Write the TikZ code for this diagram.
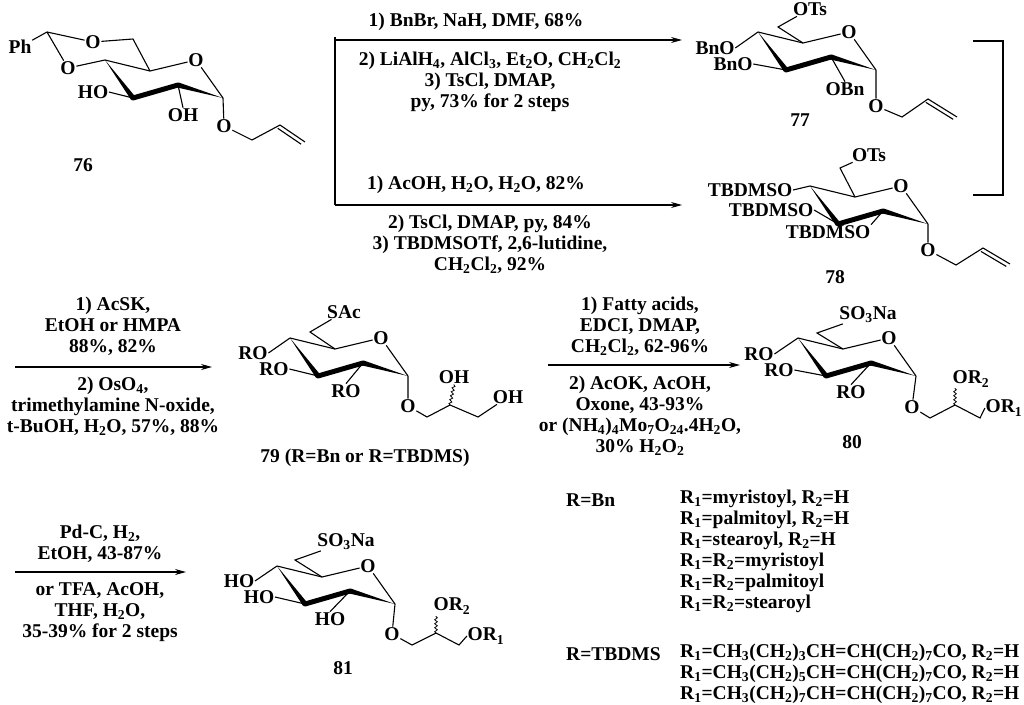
\documentclass[tikz,border=0pt]{standalone}
\usepackage{fontspec}
\setmainfont{Liberation Serif}
\usetikzlibrary{arrows.meta,calc,decorations.pathmorphing}
\newcommand{\sub}[1]{\textsubscript{#1}}
\tikzset{
  bond/.style={line width=1.1pt},
  atom/.style={inner sep=0.6pt, font=\fontsize{19.5}{21}\selectfont\bfseries},
  txt/.style={inner sep=0pt, align=center, font=\fontsize{19.5}{21}\selectfont\bfseries},
  rxn/.style={line width=1.1pt, -{Stealth[length=11pt,width=6pt]}},
  wavy/.style={line width=0.8pt, decorate, decoration={snake, amplitude=1.3pt, segment length=4pt}},
  glc/.pic={
    \coordinate (-c4) at (0,0);
    \coordinate (-c5) at (45,11);
    \node[atom] (-o) at (91,0) {O};
    \coordinate (-c1) at (118,38);
    \coordinate (-c2) at (73,25);
    \coordinate (-c3) at (28,38);
    \draw[bond] (-c4) -- (-c5) -- (-o) -- (-c1);
    \fill ($(-c3)!2.6pt!90:(-c4)$) -- (-c4) -- ($(-c3)!2.6pt!-90:(-c4)$) -- cycle;
    \draw[line width=5pt, line cap=round] (-c3) -- (-c2);
    \fill ($(-c2)!2.6pt!90:(-c1)$) -- (-c1) -- ($(-c2)!2.6pt!-90:(-c1)$) -- cycle;
  }
}
\begin{document}
\begin{tikzpicture}[x=1pt, y=-1pt]
\useasboundingbox (0,0) rectangle (1024,704);

% 76
\pic (m76) at (105,60) {glc};
\coordinate (m76-c6) at (133,39);
\node[atom] (m76-ot) at (93,42) {O};
\coordinate (m76-ac) at (47,32);
\node[atom] (m76-ph) at (20,47) {Ph};
\node[atom] (m76-ob) at (68,68) {O};
\node[atom] (m76-o3) at (93,92) {HO};
\node[atom] (m76-o2) at (183,115) {OH};
\node[atom] (m76-o1) at (224,126) {O};
\coordinate (m76-a1) at (252,140);
\coordinate (m76-a2) at (280,125);
\coordinate (m76-a3) at (305,142);
\draw[bond] (m76-c5) -- (m76-c6) -- (m76-ot) -- (m76-ac) -- (m76-ph);
\draw[bond] (m76-ac) -- (m76-ob) -- (m76-c4);
\draw[bond] (m76-c3) -- (m76-o3.east);
\draw[bond] (m76-c2) -- (m76-o2.north);
\draw[bond] (m76-c1) -- (m76-o1) -- (m76-a1) -- (m76-a2) -- (m76-a3);
\draw[bond, shorten >=2pt] ($(m76-a2)!4pt!-90:(m76-a3)$) -- ($(m76-a3)!4pt!90:(m76-a2)$);
\node[txt] (l76) at (83,165) {76};

% 77
\pic (m77) at (758,32) {glc};
\coordinate (m77-c6) at (778,27);
\node[atom] (m77-ots) at (810,9) {OTs};
\node[atom] (m77-o4) at (715,48) {BnO};
\node[atom] (m77-o3) at (733,64) {BnO};
\node[atom] (m77-o2) at (845,89) {OBn};
\node[atom] (m77-o1) at (876,106) {O};
\coordinate (m77-a1) at (902,117);
\coordinate (m77-a2) at (928,99);
\coordinate (m77-a3) at (957,117);
\draw[bond] (m77-c5) -- (m77-c6) -- (m77-ots);
\draw[bond] (m77-c4) -- (m77-o4.east);
\draw[bond] (m77-c3) -- (m77-o3.east);
\draw[bond] (m77-c2) -- (m77-o2.north);
\draw[bond] (m77-c1) -- (m77-o1) -- (m77-a1) -- (m77-a2) -- (m77-a3);
\draw[bond, shorten >=2pt] ($(m77-a2)!4pt!-90:(m77-a3)$) -- ($(m77-a3)!4pt!90:(m77-a2)$);
\node[txt] (l77) at (800,120) {77};

% 78
\pic (m78) at (810,186) {glc};
\coordinate (m78-c6) at (840,168);
\node[atom] (m78-ots) at (869,155) {OTs};
\node[atom] (m78-o4) at (750,190) {TBDMSO};
\node[atom] (m78-o3) at (771,210) {TBDMSO};
\node[atom] (m78-o2) at (828,232) {TBDMSO};
\node[atom] (m78-o1) at (928,250) {O};
\coordinate (m78-a1) at (956,265);
\coordinate (m78-a2) at (983,248);
\coordinate (m78-a3) at (1010,264);
\draw[bond] (m78-c5) -- (m78-c6) -- (m78-ots);
\draw[bond] (m78-c4) -- (m78-o4.east);
\draw[bond] (m78-c3) -- (m78-o3.east);
\draw[bond] (m78-c2) -- (m78-o2.north east);
\draw[bond] (m78-c1) -- (m78-o1) -- (m78-a1) -- (m78-a2) -- (m78-a3);
\draw[bond, shorten >=2pt] ($(m78-a2)!4pt!-90:(m78-a3)$) -- ($(m78-a3)!4pt!90:(m78-a2)$);
\node[txt] (l78) at (835,277) {78};

% bracket
\coordinate (br1) at (973,41);
\coordinate (br2) at (1003,41);
\coordinate (br3) at (1003,195);
\coordinate (br4) at (973,195);
\draw[bond] (br1) -- (br2) -- (br3) -- (br4);

% top arrows
\coordinate (t0) at (335,37);
\coordinate (t1) at (335,40);
\coordinate (t2) at (682,40);
\coordinate (t3) at (335,205);
\coordinate (t4) at (682,205);
\draw[bond] (t0) -- (t3);
\draw[rxn] (t1) -- (t2);
\draw[rxn] (t3) -- (t4);
\node[txt] (r1a) at (476,22) {1) BnBr, NaH, DMF, 68\%};
\node[txt, anchor=north] (r1b) at (490,52) {2) LiAlH\sub{4}, AlCl\sub{3}, Et\sub{2}O, CH\sub{2}Cl\sub{2}\\3) TsCl, DMAP,\\py, 73\% for 2 steps};
\node[txt] (r2a) at (476,185) {1) AcOH, H\sub{2}O, H\sub{2}O, 82\%};
\node[txt, anchor=north] (r2b) at (490,215) {2) TsCl, DMAP, py, 84\%\\3) TBDMSOTf, 2,6-lutidine,\\CH\sub{2}Cl\sub{2}, 92\%};

% 79
\pic (m79) at (290,338) {glc};
\coordinate (m79-c6) at (310,332);
\node[atom] (m79-sac) at (344,312) {SAc};
\node[atom] (m79-o4) at (253,353) {RO};
\node[atom] (m79-o3) at (274,369) {RO};
\node[atom] (m79-o2) at (346,391) {RO};
\node[atom] (m79-o1) at (408,406) {O};
\coordinate (m79-g1) at (427,417);
\coordinate (m79-g2) at (450,405);
\coordinate (m79-g3) at (478,417);
\node[atom] (m79-oh2) at (454,377) {OH};
\node[atom] (m79-oh3) at (508,397) {OH};
\draw[bond] (m79-c5) -- (m79-c6) -- (m79-sac);
\draw[bond] (m79-c4) -- (m79-o4.east);
\draw[bond] (m79-c3) -- (m79-o3.east);
\draw[bond] (m79-c2) -- (m79-o2.north);
\draw[bond] (m79-c1) -- (m79-o1) -- (m79-g1) -- (m79-g2) -- (m79-g3) -- (m79-oh3);
\draw[wavy] (m79-g2) -- (m79-oh2.south);
\node[txt] (l79) at (365,458) {79 (R=Bn or R=TBDMS)};

% arrow 76/77/78 -> 79
\coordinate (a1s) at (15,367);
\coordinate (a1e) at (212,367);
\draw[rxn] (a1s) -- (a1e);
\node[txt, anchor=south] (r3a) at (113,356) {1) AcSK,\\EtOH or HMPA\\88\%, 82\%};
\node[txt, anchor=north] (r3b) at (113,377) {2) OsO\sub{4},\\trimethylamine N-oxide,\\t-BuOH, H\sub{2}O, 57\%, 88\%};

% arrow 79 -> 80
\coordinate (a2s) at (548,365);
\coordinate (a2e) at (740,365);
\draw[rxn] (a2s) -- (a2e);
\node[txt, anchor=south] (r4a) at (640,356) {1) Fatty acids,\\EDCI, DMAP,\\CH\sub{2}Cl\sub{2}, 62-96\%};
\node[txt, anchor=north] (r4b) at (640,376) {2) AcOK, AcOH,\\Oxone, 43-93\%\\or (NH\sub{4})\sub{4}Mo\sub{7}O\sub{24}.4H\sub{2}O,\\30\% H\sub{2}O\sub{2}};

% 80
\pic (m80) at (798,338) {glc};
\coordinate (m80-c6) at (817,333);
\node[atom] (m80-so3) at (868,315) {SO\sub{3}Na};
\node[atom] (m80-o4) at (759,354) {RO};
\node[atom] (m80-o3) at (779,370) {RO};
\node[atom] (m80-o2) at (851,392) {RO};
\node[atom] (m80-o1) at (912,407) {O};
\coordinate (m80-g1) at (930,418);
\coordinate (m80-g2) at (955,405);
\coordinate (m80-g3) at (980,418);
\node[atom] (m80-or2) at (971,379) {OR\sub{2}};
\node[atom] (m80-or1) at (1004,408) {OR\sub{1}};
\draw[bond] (m80-c5) -- (m80-c6) -- (m80-so3);
\draw[bond] (m80-c4) -- (m80-o4.east);
\draw[bond] (m80-c3) -- (m80-o3.east);
\draw[bond] (m80-c2) -- (m80-o2.north);
\draw[bond] (m80-c1) -- (m80-o1) -- (m80-g1) -- (m80-g2) -- (m80-g3) -- (m80-or1.west);
\draw[wavy] (m80-g2) -- ($(m80-g2)+(0,-17)$);
\node[txt] (l80) at (852,442) {80};

% arrow 80 -> 81
\coordinate (a3s) at (15,572);
\coordinate (a3e) at (186,572);
\draw[rxn] (a3s) -- (a3e);
\node[txt, anchor=south] (r5a) at (100,563) {Pd-C, H\sub{2},\\EtOH, 43-87\%};
\node[txt, anchor=north] (r5b) at (100,582) {or TFA, AcOH,\\THF, H\sub{2}O,\\35-39\% for 2 steps};

% 81
\pic (m81) at (277,566) {glc};
\coordinate (m81-c6) at (295,560);
\node[atom] (m81-so3) at (346,542) {SO\sub{3}Na};
\node[atom] (m81-o4) at (239,581) {HO};
\node[atom] (m81-o3) at (259,597) {HO};
\node[atom] (m81-o2) at (330,619) {HO};
\node[atom] (m81-o1) at (392,634) {O};
\coordinate (m81-g1) at (412,645);
\coordinate (m81-g2) at (436,633);
\coordinate (m81-g3) at (459,645);
\node[atom] (m81-or2) at (452,606) {OR\sub{2}};
\node[atom] (m81-or1) at (486,636) {OR\sub{1}};
\draw[bond] (m81-c5) -- (m81-c6) -- (m81-so3);
\draw[bond] (m81-c4) -- (m81-o4.east);
\draw[bond] (m81-c3) -- (m81-o3.east);
\draw[bond] (m81-c2) -- (m81-o2.north);
\draw[bond] (m81-c1) -- (m81-o1) -- (m81-g1) -- (m81-g2) -- (m81-g3) -- (m81-or1.west);
\draw[wavy] (m81-g2) -- ($(m81-g2)+(0,-17)$);
\node[txt] (l81) at (343,668) {81};

% R groups
\node[txt, anchor=west] (rbn) at (566,500) {R=Bn};
\node[txt, align=left, anchor=north west] (rbnl) at (680,490) {R\sub{1}=myristoyl, R\sub{2}=H\\R\sub{1}=palmitoyl, R\sub{2}=H\\R\sub{1}=stearoyl, R\sub{2}=H\\R\sub{1}=R\sub{2}=myristoyl\\R\sub{1}=R\sub{2}=palmitoyl\\R\sub{1}=R\sub{2}=stearoyl};
\node[txt, anchor=west] (rtb) at (566,654) {R=TBDMS};
\node[txt, align=left, anchor=north west] (rtbl) at (680,644) {R\sub{1}=CH\sub{3}(CH\sub{2})\sub{3}CH=CH(CH\sub{2})\sub{7}CO, R\sub{2}=H\\R\sub{1}=CH\sub{3}(CH\sub{2})\sub{5}CH=CH(CH\sub{2})\sub{7}CO, R\sub{2}=H\\R\sub{1}=CH\sub{3}(CH\sub{2})\sub{7}CH=CH(CH\sub{2})\sub{7}CO, R\sub{2}=H};
\end{tikzpicture}
\end{document}
